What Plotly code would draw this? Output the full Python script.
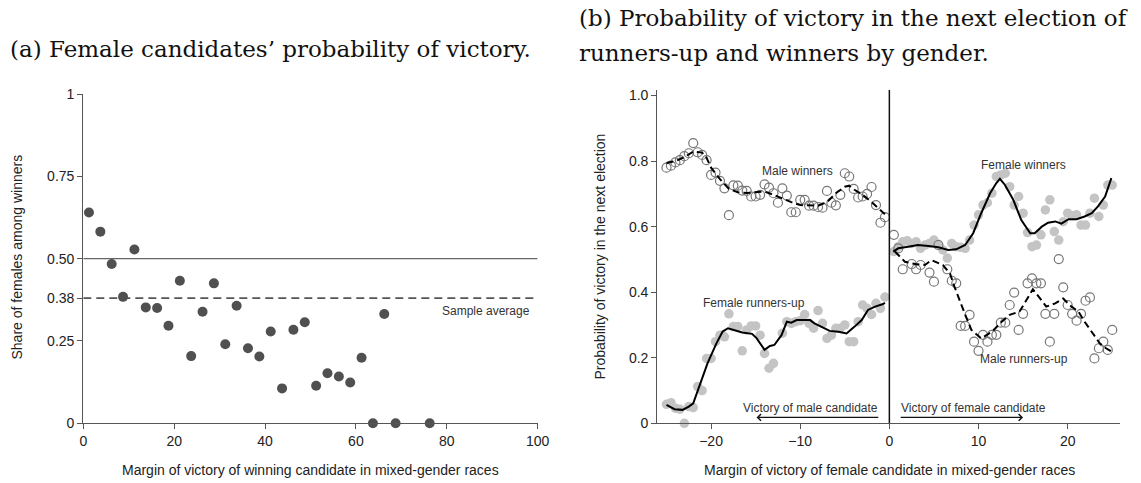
import plotly.graph_objects as go

W, H = 1141, 483

# ---------------- Panel (a) data ----------------
a_margin = [1.25, 3.75, 6.25, 8.75, 11.25, 13.75, 16.25, 18.75, 21.25, 23.75,
            26.25, 28.75, 31.25, 33.75, 36.25, 38.75, 41.25, 43.75, 46.25, 48.75,
            51.25, 53.75, 56.25, 58.75, 61.25, 63.75, 66.25, 68.75, 76.25]
a_share = [0.640, 0.582, 0.484, 0.384, 0.528, 0.352, 0.350, 0.296, 0.433, 0.204,
           0.339, 0.425, 0.240, 0.357, 0.228, 0.203, 0.279, 0.106, 0.284, 0.307,
           0.114, 0.152, 0.142, 0.124, 0.199, 0.0, 0.332, 0.0, 0.0]
a_parity = 0.50
a_sample_avg = 0.38
a_yticks = [0, 0.25, 0.38, 0.50, 0.75, 1]
a_yticktext = ["0", "0.25", "0.38", "0.50", "0.75", "1"]
a_xticks = [0, 20, 40, 60, 80, 100]

# ---------------- Panel (b) data ----------------
left_x = [-25.0, -24.5, -24.0, -23.5, -23.0, -22.5, -22.0, -21.5, -21.0, -20.5,
          -20.0, -19.5, -19.0, -18.5, -18.0, -17.5, -17.0, -16.5, -16.0, -15.5,
          -15.0, -14.5, -14.0, -13.5, -13.0, -12.5, -12.0, -11.5, -11.0, -10.5,
          -10.0, -9.5, -9.0, -8.5, -8.0, -7.5, -7.0, -6.5, -6.0, -5.5,
          -5.0, -4.5, -4.0, -3.5, -3.0, -2.5, -2.0, -1.5, -1.0, -0.5]
male_winners = [0.780, 0.786, 0.796, 0.803, 0.815, 0.824, 0.855, 0.827, 0.819, 0.803,
                0.758, 0.765, 0.740, 0.717, 0.635, 0.726, 0.725, 0.710, 0.709, 0.692,
                0.692, 0.697, 0.729, 0.719, 0.702, 0.673, 0.717, 0.695, 0.644, 0.644,
                0.682, 0.682, 0.664, 0.664, 0.660, 0.658, 0.709, 0.673, 0.665, 0.697,
                0.763, 0.753, 0.715, 0.689, 0.692, 0.700, 0.721, 0.666, 0.612, 0.629]

fr_x = [-25.0, -24.5, -24.0, -23.5, -23.0, -22.5, -22.0, -21.5, -21.0, -20.5,
        -20.0, -19.5, -19.0, -18.5, -18.0, -17.5, -17.0, -16.5, -16.0, -15.5,
        -15.0, -14.5, -14.0, -13.5, -13.0, -12.0, -11.5, -11.0, -10.5,
        -10.0, -9.5, -9.0, -8.5, -8.0, -7.5, -7.0, -6.5, -6.0, -5.5,
        -5.0, -4.5, -4.0, -3.5, -3.0, -2.5, -2.0, -1.5, -1.0, -0.5]
female_runnersup = [0.058, 0.063, 0.046, 0.043, 0.0, 0.051, 0.048, 0.112, 0.100, 0.198,
                    0.198, 0.249, 0.269, 0.264, 0.334, 0.295, 0.295, 0.221, 0.285, 0.297,
                    0.297, 0.269, 0.213, 0.168, 0.183, 0.275, 0.310, 0.305, 0.310,
                    0.313, 0.332, 0.305, 0.290, 0.344, 0.305, 0.259, 0.269, 0.290, 0.290,
                    0.300, 0.249, 0.249, 0.310, 0.361, 0.351, 0.332, 0.366, 0.351, 0.385]

fw_x = [0.5, 1.0, 1.5, 2.0, 2.5, 3.0, 3.5, 4.0, 4.5, 5.0,
        5.5, 6.0, 6.5, 7.0, 7.5, 8.0, 8.5, 9.0, 9.5, 10.0,
        10.5, 11.0, 11.5, 12.0, 12.5, 13.0, 13.5, 14.0, 14.5, 15.0,
        15.5, 16.0, 16.5, 17.0, 17.5, 18.0, 18.5, 19.0, 19.5, 20.0,
        20.5, 21.0, 21.5, 22.0, 22.5, 23.0, 23.5, 24.0, 24.5, 25.0]
female_winners = [0.524, 0.539, 0.554, 0.557, 0.549, 0.554, 0.534, 0.544, 0.549, 0.559,
                  0.546, 0.529, 0.504, 0.549, 0.539, 0.537, 0.534, 0.559, 0.605, 0.636,
                  0.666, 0.673, 0.702, 0.753, 0.758, 0.763, 0.722, 0.666, 0.692, 0.641,
                  0.582, 0.539, 0.544, 0.575, 0.651, 0.682, 0.585, 0.559, 0.615, 0.641,
                  0.633, 0.636, 0.605, 0.605, 0.641, 0.687, 0.631, 0.666, 0.727, 0.727]

mr_x = [0.5, 1.0, 1.5, 2.5, 3.0, 3.5, 4.5, 5.0, 5.5, 6.5, 7.0, 7.5, 8.0, 8.5, 9.0,
        9.5, 10.0, 10.5, 11.0, 11.5, 12.0, 12.5, 13.0, 13.5, 14.0, 14.5, 15.0, 15.5,
        16.0, 16.5, 17.0, 17.5, 18.0, 18.5, 19.0, 19.5, 20.0, 20.5, 21.0, 21.5, 22.0,
        22.5, 23.0, 23.5, 24.0, 24.5, 25.0]
male_runnersup = [0.575, 0.534, 0.470, 0.486, 0.470, 0.483, 0.460, 0.432, 0.544, 0.470,
                  0.435, 0.427, 0.297, 0.297, 0.331, 0.249, 0.221, 0.270, 0.249, 0.270,
                  0.270, 0.307, 0.307, 0.361, 0.399, 0.285, 0.334, 0.427, 0.442, 0.427,
                  0.427, 0.334, 0.249, 0.334, 0.501, 0.415, 0.361, 0.334, 0.313, 0.334,
                  0.374, 0.384, 0.198, 0.229, 0.249, 0.224, 0.285]

# smoothed fits
mw_fit_x = [-25, -24, -23, -22, -21, -20.5, -20, -19, -18, -17, -16, -15, -14, -13, -12,
            -11, -10, -9, -8, -7, -6, -5, -4.5, -4, -3, -2, -1, -0.5]
mw_fit_y = [0.794, 0.800, 0.812, 0.829, 0.826, 0.810, 0.780, 0.745, 0.715, 0.705, 0.703,
            0.705, 0.707, 0.697, 0.685, 0.675, 0.666, 0.665, 0.664, 0.675, 0.702, 0.722,
            0.725, 0.714, 0.697, 0.675, 0.652, 0.638]
fr_fit_x = [-25, -24.1, -23.2, -22.5, -22, -21.3, -20.4, -19.4, -18.7, -18.1, -17.4, -16.5,
            -15.4, -14.9, -14, -13.4, -12.9, -12.1, -11.5, -11, -10.4, -8.9, -8.4, -7.6,
            -6.7, -5.7, -4.8, -3.9, -3.1, -2.4, -1.6, -0.7, -0.5]
fr_fit_y = [0.056, 0.043, 0.041, 0.051, 0.061, 0.112, 0.183, 0.244, 0.280, 0.290, 0.285,
            0.277, 0.273, 0.260, 0.224, 0.236, 0.239, 0.269, 0.310, 0.307, 0.315, 0.315,
            0.305, 0.295, 0.282, 0.279, 0.274, 0.295, 0.315, 0.346, 0.356, 0.364, 0.368]
fw_fit_x = [0.43, 0.99, 2.1, 3.2, 4.4, 5.5, 6.6, 7.5, 8.5, 9.4, 10.3, 11.3, 12.0, 12.4,
            12.95, 13.9, 14.8, 15.8, 16.3, 17.1, 17.8, 18.6, 19.3, 20.1, 21.0, 21.9, 22.7,
            23.4, 24.2, 24.9]
fw_fit_y = [0.524, 0.534, 0.539, 0.544, 0.541, 0.537, 0.529, 0.531, 0.544, 0.580, 0.641,
            0.702, 0.733, 0.746, 0.728, 0.682, 0.620, 0.580, 0.580, 0.600, 0.612, 0.616,
            0.609, 0.623, 0.623, 0.631, 0.641, 0.662, 0.692, 0.748]
mr_fit_x = [0.62, 1.74, 2.9, 3.98, 4.73, 6.0, 6.8, 7.3, 8.3, 9.2, 10.3, 11.5, 12.6, 13.5,
            14.6, 15.4, 16.1, 16.9, 17.6, 18.6, 19.5, 20.2, 21.2, 21.9, 22.7, 23.6, 24.3, 24.9]
mr_fit_y = [0.524, 0.493, 0.486, 0.483, 0.498, 0.483, 0.457, 0.417, 0.346, 0.285, 0.259,
            0.279, 0.310, 0.331, 0.341, 0.376, 0.409, 0.381, 0.356, 0.366, 0.381, 0.361,
            0.341, 0.310, 0.279, 0.244, 0.229, 0.219]

b_yticks = [0, 0.2, 0.4, 0.6, 0.8, 1.0]
b_yticktext = ["0", "0.2", "0.4", "0.6", "0.8", "1.0"]
b_xticks = [-20, -10, 0, 10, 20]

# ---------------- styling ----------------
SANS = "Liberation Sans, Arial, sans-serif"
SERIF = "DejaVu Serif, serif"
AX = "#555555"
TXT = "#222222"
LBL = "#333333"

def px(x):
    return x / W

def py(y):
    return 1 - y / H

fig = go.Figure()

# Panel (a)
fig.add_trace(go.Scatter(x=[0, 100], y=[a_parity, a_parity], mode="lines",
                         line=dict(color="#666666", width=1.3),
                         xaxis="x", yaxis="y", showlegend=False, hoverinfo="skip"))
fig.add_trace(go.Scatter(x=[0, 100], y=[a_sample_avg, a_sample_avg], mode="lines",
                         line=dict(color="#555555", width=1.6, dash="8px,5px"),
                         xaxis="x", yaxis="y", showlegend=False, hoverinfo="skip"))
fig.add_trace(go.Scatter(x=a_margin, y=a_share, mode="markers",
                         marker=dict(color="#505050", size=10, line=dict(width=0)),
                         cliponaxis=False, xaxis="x", yaxis="y", showlegend=False))

# Panel (b) markers
fig.add_trace(go.Scatter(x=fr_x, y=female_runnersup, mode="markers",
                         marker=dict(color="#c4c4c4", size=9.5, line=dict(width=0)),
                         cliponaxis=False, xaxis="x2", yaxis="y2", showlegend=False))
fig.add_trace(go.Scatter(x=fw_x, y=female_winners, mode="markers",
                         marker=dict(color="#c4c4c4", size=9.5, line=dict(width=0)),
                         cliponaxis=False, xaxis="x2", yaxis="y2", showlegend=False))
fig.add_trace(go.Scatter(x=left_x, y=male_winners, mode="markers",
                         marker=dict(symbol="circle-open", color="#777777", size=9,
                                     line=dict(width=1.2)),
                         cliponaxis=False, xaxis="x2", yaxis="y2", showlegend=False))
fig.add_trace(go.Scatter(x=mr_x, y=male_runnersup, mode="markers",
                         marker=dict(symbol="circle-open", color="#777777", size=9,
                                     line=dict(width=1.2)),
                         cliponaxis=False, xaxis="x2", yaxis="y2", showlegend=False))

# vertical line at zero
fig.add_trace(go.Scatter(x=[0, 0], y=[0, 1.017], mode="lines",
                         line=dict(color="#111111", width=1.5),
                         xaxis="x2", yaxis="y2", showlegend=False, hoverinfo="skip"))

# fits
fig.add_trace(go.Scatter(x=mw_fit_x, y=mw_fit_y, mode="lines",
                         line=dict(color="#000000", width=2, dash="7px,4px"),
                         xaxis="x2", yaxis="y2", showlegend=False))
fig.add_trace(go.Scatter(x=fr_fit_x, y=fr_fit_y, mode="lines",
                         line=dict(color="#000000", width=2),
                         xaxis="x2", yaxis="y2", showlegend=False))
fig.add_trace(go.Scatter(x=fw_fit_x, y=fw_fit_y, mode="lines",
                         line=dict(color="#000000", width=2),
                         xaxis="x2", yaxis="y2", showlegend=False))
fig.add_trace(go.Scatter(x=mr_fit_x, y=mr_fit_y, mode="lines",
                         line=dict(color="#000000", width=2, dash="7px,4px"),
                         xaxis="x2", yaxis="y2", showlegend=False))

axis_common = dict(showline=True, linecolor=AX, linewidth=1.3, ticks="outside",
                   ticklen=5, tickwidth=1.3, tickcolor=AX, showgrid=False,
                   zeroline=False, automargin=False,
                   tickfont=dict(family=SANS, size=14, color=TXT))

fig.update_layout(
    width=W, height=H, margin=dict(l=0, r=0, t=0, b=0, pad=0, autoexpand=False),
    paper_bgcolor="white", plot_bgcolor="white",
    xaxis=dict(domain=[px(83.3), px(537.6)], range=[0, 100], tickvals=a_xticks,
               anchor="y", **axis_common),
    yaxis=dict(domain=[py(423.3), py(94.0)], range=[0, 1], tickvals=a_yticks,
               ticktext=a_yticktext, anchor="x", **axis_common),
    xaxis2=dict(domain=[px(657.3), px(1120.0)], range=[-26.03, 25.87], tickvals=b_xticks,
                anchor="y2", **axis_common),
    yaxis2=dict(domain=[py(423.3), py(90.0)], range=[0, 1.017], tickvals=b_yticks,
                ticktext=b_yticktext, anchor="x2", **axis_common),
)

TFONT = dict(family=SERIF, size=23, color="#111111")
ann = []
# titles
ann.append(dict(text="(a) Female candidates\u2019 probability of victory.", x=px(8), y=py(49),
                xref="paper", yref="paper", xanchor="left", yanchor="middle", showarrow=False,
                font=TFONT))
ann.append(dict(text="(b) Probability of victory in the next election of", x=px(577), y=py(18.5),
                xref="paper", yref="paper", xanchor="left", yanchor="middle", showarrow=False,
                font=TFONT))
ann.append(dict(text="runners-up and winners by gender.", x=px(577), y=py(53),
                xref="paper", yref="paper", xanchor="left", yanchor="middle", showarrow=False,
                font=TFONT))
# axis titles
ann.append(dict(text="Margin of victory of winning candidate in mixed-gender races",
                x=px(310.5), y=py(470), xref="paper", yref="paper", showarrow=False,
                xanchor="center", yanchor="middle", font=dict(family=SANS, size=14, color=TXT)))
ann.append(dict(text="Share of females among winners", x=px(16), y=py(257.5), textangle=-90,
                xref="paper", yref="paper", showarrow=False, xanchor="center", yanchor="middle",
                font=dict(family=SANS, size=14, color=TXT)))
ann.append(dict(text="Margin of victory of female candidate in mixed-gender races",
                x=px(889), y=py(470), xref="paper", yref="paper", showarrow=False,
                xanchor="center", yanchor="middle", font=dict(family=SANS, size=14, color=TXT)))
ann.append(dict(text="Probability of victory in the next election", x=px(599.5), y=py(257),
                textangle=-90, xref="paper", yref="paper", showarrow=False,
                xanchor="center", yanchor="middle", font=dict(family=SANS, size=14, color=TXT)))
# in-plot labels
lab = dict(family=SANS, size=12, color=LBL)
ann.append(dict(text="Sample average", x=98.8, y=0.342, xref="x", yref="y", showarrow=False,
                xanchor="right", yanchor="middle", font=lab))
ann.append(dict(text="Male winners", x=-10.34, y=0.771, xref="x2", yref="y2", showarrow=False,
                xanchor="center", yanchor="middle", font=lab))
ann.append(dict(text="Female runners-up", x=-15.17, y=0.366, xref="x2", yref="y2",
                showarrow=False, xanchor="center", yanchor="middle", font=lab))
ann.append(dict(text="Female winners", x=15.0, y=0.788, xref="x2", yref="y2", showarrow=False,
                xanchor="center", yanchor="middle", font=lab))
ann.append(dict(text="Male runners-up", x=15.15, y=0.195, xref="x2", yref="y2",
                showarrow=False, xanchor="center", yanchor="middle", font=lab))
ann.append(dict(text="Victory of male candidate", x=-1.1, y=0.048, xref="x2", yref="y2",
                showarrow=False, xanchor="right", yanchor="middle", font=lab))
ann.append(dict(text="Victory of female candidate", x=1.1, y=0.048, xref="x2", yref="y2",
                showarrow=False, xanchor="left", yanchor="middle", font=lab))
# arrows
ann.append(dict(text="", x=-14.9, y=0.018, ax=-1.07, ay=0.018, xref="x2", yref="y2",
                axref="x2", ayref="y2", showarrow=True, arrowhead=4, arrowsize=1.2,
                arrowwidth=1.1, arrowcolor="#111111"))
ann.append(dict(text="", x=15.0, y=0.018, ax=1.1, ay=0.018, xref="x2", yref="y2",
                axref="x2", ayref="y2", showarrow=True, arrowhead=4, arrowsize=1.2,
                arrowwidth=1.1, arrowcolor="#111111"))

fig.update_layout(annotations=ann)
fig.write_html("out.html")
